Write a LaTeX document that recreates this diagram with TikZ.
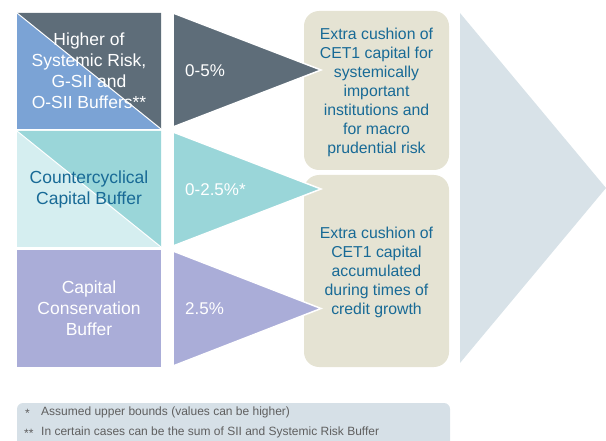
\documentclass[tikz,border=0pt]{standalone}
\usepackage{fontspec}
\setmainfont{Liberation Sans}
\usetikzlibrary{positioning}

\definecolor{slate}{RGB}{94,109,121}
\definecolor{sysblue}{RGB}{123,163,213}
\definecolor{ccyteal}{RGB}{154,214,217}
\definecolor{ccylight}{RGB}{213,238,240}
\definecolor{ccblav}{RGB}{170,173,216}
\definecolor{cushion}{RGB}{229,227,211}
\definecolor{chev}{RGB}{216,226,232}
\definecolor{notebg}{RGB}{214,224,231}
\definecolor{deepblue}{RGB}{24,106,150}
\definecolor{notegray}{RGB}{95,95,95}

\begin{document}
\begin{tikzpicture}[x=1pt,y=-1pt,
  buffer/.style={minimum width=144pt,minimum height=116pt,inner sep=0pt,align=center,
    font=\fontsize{17.5}{21}\selectfont},
  halves/.style 2 args={fill=#1,path picture={
    \fill[#2] (path picture bounding box.north west) -- (path picture bounding box.north east)
      -- (path picture bounding box.south east) -- cycle;
    \draw[white,line width=1pt] (path picture bounding box.north west) -- (path picture bounding box.south east);}},
  wedge/.style={draw=white,line width=1.5pt,line join=miter},
  rate/.style={anchor=west,inner sep=0pt,text=white,font=\fontsize{17}{20}\selectfont},
  cushionbox/.style={fill=cushion,rounded corners=15pt},
  why/.style={align=center,text=deepblue,font=\fontsize{15.8}{19}\selectfont},
  note/.style={anchor=west,inner sep=0pt,text=notegray,font=\fontsize{12}{14}\selectfont}
]
\useasboundingbox (0,0) rectangle (606,441);

%Buffers:
\node (sys) [buffer,halves={sysblue}{slate},text=white] at (89,71)
  {Higher of\\Systemic Risk,\\G-SII and\\O-SII Buffers**};
\node (ccy) [buffer,halves={ccylight}{ccyteal},text=deepblue] at (89,189)
  {Countercyclical\\Capital Buffer};
\node (ccb) [buffer,minimum height=117pt,fill=ccblav,text=white] at (89,308.5)
  {Capital\\Conservation\\Buffer};

%Purpose:
\fill[cushionbox] (304,11) rectangle (449,170);
\fill[cushionbox] (304,175) rectangle (449,367);
\node (macro) [why] at (376.5,92)
  {Extra cushion of\\CET1 capital for\\systemically\\important\\institutions and\\for macro\\prudential risk};
\node (growth) [why] at (376.5,272)
  {Extra cushion of\\CET1 capital\\accumulated\\during times of\\credit growth};

%Rates:
\filldraw[wedge,fill=slate] (173,13) -- (321,70) -- (173,127) -- cycle;
\filldraw[wedge,fill=ccyteal] (173,132) -- (321,189) -- (173,246) -- cycle;
\filldraw[wedge,fill=ccblav] (173,251) -- (321,308.5) -- (173,366) -- cycle;
\node (sysrate) [rate] at (185,71) {0-5\%};
\node (ccyrate) [rate] at (185,190) {0-2.5\%*};
\node (ccbrate) [rate] at (185,309) {2.5\%};

%Chevron
\fill[chev] (460,13) -- (606,188) -- (460,363) -- cycle;

%Notes
\fill[notebg,rounded corners=6pt] (17,403) rectangle (450,455);
\node (star) [note] at (25,413) {*};
\node (upper) [note] at (41,412) {Assumed upper bounds (values can be higher)};
\node (stars) [note] at (24,433) {**};
\node (sum) [note] at (41,432) {In certain cases can be the sum of SII and Systemic Risk Buffer};

\end{tikzpicture}
\end{document}
